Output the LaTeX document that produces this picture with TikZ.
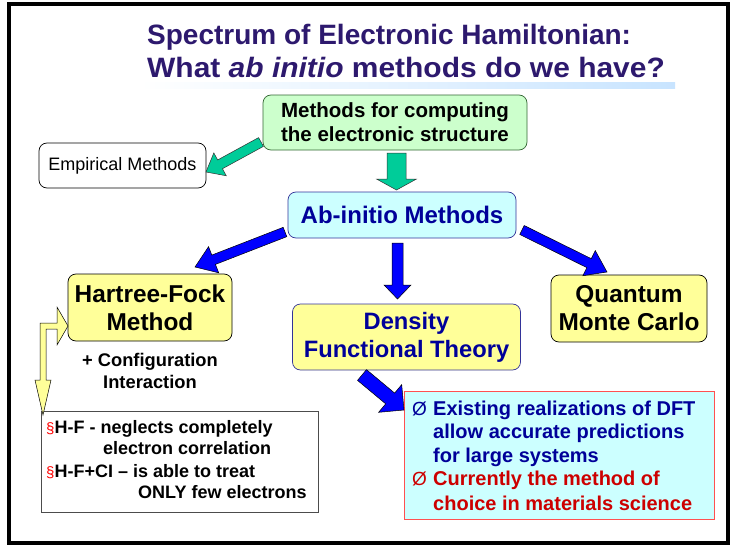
\documentclass[tikz,border=0pt]{standalone}
\usepackage{fontspec}
\usepackage{graphicx}
\setmainfont{Liberation Sans}
\usetikzlibrary{calc}
\definecolor{titlecol}{RGB}{45,25,110}
\definecolor{gfill}{HTML}{CCFFCC}
\definecolor{gline}{HTML}{336633}
\definecolor{teal}{HTML}{00CC99}
\definecolor{cfill}{HTML}{CCFFFF}
\definecolor{navy}{HTML}{000099}
\definecolor{nline}{HTML}{333399}
\definecolor{yfill}{HTML}{FFFF99}
\definecolor{bluearr}{HTML}{0000FF}
\definecolor{dred}{HTML}{CC0000}
\definecolor{rline}{HTML}{FF5050}
\definecolor{barblue}{HTML}{C8E4FF}
\newcommand\fatarrow[6]{%
  \coordinate (fa-h) at ($(#3)!#6!(#2)$);
  \path[#1] ($(#2)!#4!90:(#3)$) -- ($(fa-h)!#4!90:(#3)$) -- ($(fa-h)!#5!90:(#3)$)
    -- (#3) -- ($(fa-h)!#5!-90:(#3)$) -- ($(fa-h)!#4!-90:(#3)$) -- ($(#2)!#4!-90:(#3)$) -- cycle;
}
\begin{document}
\begin{tikzpicture}[x=1pt,y=-1pt,
  box/.style={draw, rounded corners=8pt, line width=0.7pt, align=center, inner sep=0pt},
  greenbox/.style={box, fill=gfill, draw=gline, font=\bfseries\fontsize{20.5}{24}\selectfont},
  yellowbox/.style={box, fill=yfill, font=\bfseries\fontsize{24.4}{28}\selectfont},
  tealarrow/.style={fill=teal, draw=black!80, line width=0.5pt},
  bluearrow/.style={fill=bluearr, draw=black, line width=0.5pt},
  bul/.style={anchor=base west, inner sep=0pt, font=\bfseries\fontsize{18}{21}\selectfont},
  res/.style={anchor=base west, inner sep=0pt, font=\bfseries\fontsize{20}{23}\selectfont},
  sym/.style={anchor=base west, inner sep=0pt, font=\fontsize{19}{22}\selectfont}
]
\useasboundingbox (0,0) rectangle (732,546);
\fill[white] (0,0) rectangle (732,546);
\draw[line width=4pt] (9,3.5) rectangle (727.5,542.5);

% title
\node[anchor=base west, inner sep=0pt, text=titlecol, font=\bfseries\fontsize{28}{32}\selectfont] (t1) at (147,44) {Spectrum of Electronic Hamiltonian:};
\node[anchor=base west, inner sep=0pt, text=titlecol, font=\bfseries\fontsize{28}{32}\selectfont] (t2) at (147,77) {\scalebox{1.07}[1]{What \textit{ab initio} methods do we have?}};
\shade[left color=white, right color=barblue] (140,82) rectangle (675,88);

% boxes
\node[greenbox, minimum width=264pt, minimum height=55pt] (meth) at (395,122.5) {Methods for computing\\the electronic structure};
\node[box, fill=white, minimum width=167pt, minimum height=45pt, font=\fontsize{18}{21}\selectfont] (emp) at (122.5,165.5) {Empirical Methods};
\node[box, fill=cfill, draw=nline, text=navy, minimum width=228pt, minimum height=46pt, font=\bfseries\fontsize{24}{28}\selectfont] (ab) at (402,215) {Ab-initio Methods};
\node[yellowbox, minimum width=164pt, minimum height=67pt] (hf) at (150,307.5) {Hartree-Fock\\Method};
\node[yellowbox, draw=nline, text=navy, font=\bfseries\fontsize{23.7}{28}\selectfont, minimum width=228pt, minimum height=66pt] (dft) at (406.5,337) {Density\\Functional Theory};
\node[yellowbox, minimum width=156pt, minimum height=67pt] (qmc) at (629,308.5) {Quantum\\Monte Carlo};
\node[align=center, inner sep=0pt, font=\bfseries\fontsize{18.3}{21.5}\selectfont] (ci) at (150,371) {+ Configuration\\Interaction};

% bullet box
\node[draw=black!70, fill=white, line width=0.7pt, minimum width=277pt, minimum height=101pt, inner sep=0pt] (hfbox) at (179.5,461.5) {};
\node[bul] (b1) at (46,433) {\textcolor{red}{\mdseries\fontsize{15}{16}\selectfont §}H-F - neglects completely};
\node[bul] (b2) at (103,454) {electron correlation};
\node[bul] (b3) at (46,477) {\textcolor{red}{\mdseries\fontsize{15}{16}\selectfont §}H-F+CI – is able to treat};
\node[bul] (b4) at (138,498) {ONLY few electrons};

% result box
\node[draw=rline, fill=cfill, line width=0.8pt, minimum width=310pt, minimum height=128pt, inner sep=0pt] (resbox) at (559,455) {};
\node[sym, text=navy] (s1) at (412,415) {Ø};
\node[res, text=navy] (r1) at (433,415) {Existing realizations of DFT};
\node[res, text=navy] (r2) at (433,438) {allow accurate predictions};
\node[res, text=navy] (r3) at (433,462) {for large systems};
\node[sym, text=dred] (s2) at (412,485) {Ø};
\node[res, text=dred] (r4) at (433,485) {Currently the method of};
\node[res, text=dred] (r5) at (433,510) {choice in materials science};

% arrow end points
\coordinate (g1a) at (261,142); \coordinate (g1b) at (206,172);
\coordinate (g2a) at (396.5,153); \coordinate (g2b) at (396.5,190);
\coordinate (b1a) at (285,232); \coordinate (b1b) at (195,267);
\coordinate (b2a) at (397.5,243); \coordinate (b2b) at (397.5,299);
\coordinate (b3a) at (522,230); \coordinate (b3b) at (607,272);
\coordinate (b4a) at (362,375); \coordinate (b4b) at (404,410);

\fatarrow{tealarrow}{g1a}{g1b}{5pt}{13pt}{16pt}
\fatarrow{tealarrow}{g2a}{g2b}{9.5pt}{20pt}{11pt}
\fatarrow{bluearrow}{b1a}{b1b}{5pt}{14pt}{20pt}
\fatarrow{bluearrow}{b2a}{b2b}{5.5pt}{13.5pt}{14pt}
\fatarrow{bluearrow}{b3a}{b3b}{5pt}{14pt}{20pt}
\fatarrow{bluearrow}{b4a}{b4b}{7pt}{18pt}{18pt}

% yellow elbow arrow
\filldraw[fill=yfill, draw=black, line width=0.5pt]
  (40,323) -- (57,323) -- (57,307) -- (68,326) -- (57,345) -- (57,329) -- (46,329)
  -- (46,380) -- (51,380) -- (43,415) -- (35,380) -- (40,380) -- cycle;
\end{tikzpicture}
\end{document}
